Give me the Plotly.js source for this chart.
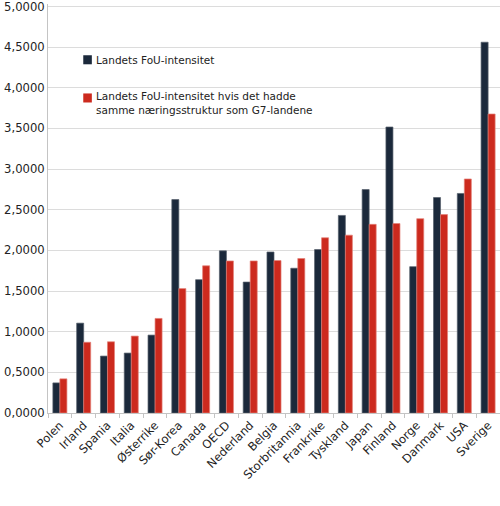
<!DOCTYPE html>
<html>
<head>
<meta charset="utf-8">
<script src="https://cdn.plot.ly/plotly-3.0.1.min.js"></script>
<style>
  html, body { margin: 0; padding: 0; background: #fff; }
  #chart { width: 500px; height: 506px; }
</style>
</head>
<body>
<div id="chart"></div>
<script>
const countries = ['Polen', 'Irland', 'Spania', 'Italia', 'Østerrike', 'Sør-Korea', 'Canada', 'OECD',
  'Nederland', 'Belgia', 'Storbritannia', 'Frankrike', 'Tyskland', 'Japan', 'Finland', 'Norge',
  'Danmark', 'USA', 'Sverige'];
const actual = [0.37, 1.105, 0.70, 0.737, 0.958, 2.625, 1.64, 1.994, 1.61, 1.98, 1.78, 2.01, 2.43,
  2.748, 3.517, 1.80, 2.65, 2.70, 4.56];
const g7Structure = [0.42, 0.87, 0.876, 0.946, 1.163, 1.53, 1.81, 1.87, 1.87, 1.875, 1.90, 2.155,
  2.187, 2.32, 2.33, 2.39, 2.44, 2.878, 3.677];

const seriesNames = [
  'Landets FoU-intensitet',
  'Landets FoU-intensitet hvis det hadde<br>samme næringsstruktur som G7-landene',
];
const seriesColors = ['#1b293b', '#cc2a1e'];
const outlineColors = ['#56606c', '#e48178'];

const FONT = { family: 'DejaVu Sans, sans-serif', size: 10.5, color: '#222' };
const TICK_FONT = { family: 'DejaVu Sans, sans-serif', size: 11.6, color: '#222' };

const data = [actual, g7Structure].map((values, i) => ({
  type: 'bar',
  name: seriesNames[i],
  x: countries,
  y: values,
  marker: { color: seriesColors[i], line: { color: outlineColors[i], width: 0.7 } },
}));

// Legend drawn by hand: plotly's own legend puts a wide gap between swatch and text.
const legendRows = [
  { swatchTop: 0.8747, swatchBottom: 0.8526, textY: 0.864 },
  { swatchTop: 0.7813, swatchBottom: 0.7592, textY: 0.757 },
];

const shapes = legendRows.map((row, i) => ({
  type: 'rect',
  xref: 'paper',
  yref: 'paper',
  x0: 0.078,
  x1: 0.097,
  y0: row.swatchBottom,
  y1: row.swatchTop,
  fillcolor: seriesColors[i],
  line: { width: 0 },
}));

const annotations = legendRows.map((row, i) => ({
  xref: 'paper',
  yref: 'paper',
  x: 0.101,
  y: row.textY,
  xanchor: 'left',
  yanchor: 'middle',
  align: 'left',
  showarrow: false,
  text: seriesNames[i],
  font: FONT,
}));

const layout = {
  width: 500,
  height: 506,
  margin: { l: 48, r: 0, t: 4, b: 93 },
  font: FONT,
  separators: ',.',
  barmode: 'group',
  bargap: 0.41,
  bargroupgap: 0,
  showlegend: false,
  shapes,
  annotations,
  xaxis: {
    type: 'category',
    tickangle: -45,
    ticks: 'outside',
    tickson: 'boundaries',
    ticklen: 4,
    tickcolor: '#c4c4c4',
    showline: true,
    linecolor: '#c4c4c4',
    linewidth: 1,
    showgrid: false,
    tickfont: TICK_FONT,
  },
  yaxis: {
    // a little headroom so the 5,0000 gridline is not dropped at the edge
    range: [0, 5.03],
    dtick: 0.5,
    tick0: 0,
    tickformat: '.4f',
    ticklabeloverflow: 'allow',
    showgrid: true,
    gridcolor: '#dcdcdc',
    showline: true,
    linecolor: '#c4c4c4',
    zeroline: false,
    ticks: '',
    tickfont: TICK_FONT,
  },
  paper_bgcolor: '#fff',
  plot_bgcolor: '#fff',
};

Plotly.newPlot('chart', data, layout, { displayModeBar: false, staticPlot: true });
</script>
</body>
</html>
